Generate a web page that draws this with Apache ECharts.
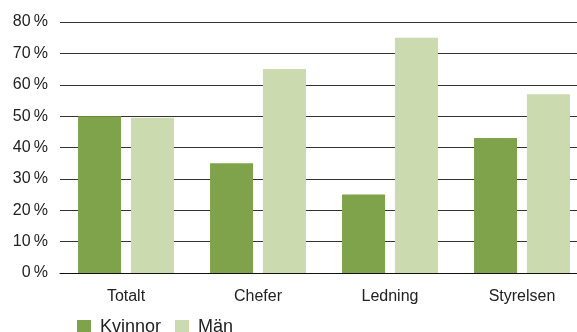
<!DOCTYPE html>
<html><head><meta charset="utf-8">
<script src="https://cdn.jsdelivr.net/npm/echarts@6/dist/echarts.min.js"></script>
<style>html,body{margin:0;padding:0;background:#fff}#c{width:577px;height:332px}</style>
</head><body><div id="c"></div>
<script>
const categories = ['Totalt', 'Chefer', 'Ledning', 'Styrelsen'];
const kvinnor = [50, 35, 25, 43];
const man = [49.5, 65, 75, 57];
const yTicks = [0, 10, 20, 30, 40, 50, 60, 70, 80];

const chart = echarts.init(document.getElementById('c'), null, {renderer: 'canvas'});
const font = 'Liberation Sans, Arial, Helvetica, sans-serif';
chart.setOption({
  animation: false,
  textStyle: {fontFamily: font},
  grid: {left: 60, width: 528, top: 22, height: 251, containLabel: false, outerBoundsMode: 'none'},
  legend: {
    left: 72, top: 313, itemWidth: 14, itemHeight: 14, itemGap: 14,
    icon: 'rect',
    textStyle: {fontSize: 18, color: '#222', fontFamily: font, padding: [0, 0, 0, 4]},
    data: ['Kvinnor', 'Män']
  },
  xAxis: {
    type: 'category', data: categories,
    axisLine: {lineStyle: {color: '#111', width: 1}},
    axisTick: {show: false},
    axisLabel: {fontSize: 16, color: '#222', margin: 16, fontFamily: font}
  },
  yAxis: {
    type: 'value', min: yTicks[0], max: yTicks[yTicks.length - 1], interval: 10,
    axisLine: {show: false}, axisTick: {show: false},
    axisLabel: {fontSize: 16, color: '#222', margin: 12, fontFamily: font,
      formatter: v => v + '\u2009%'},
    splitLine: {lineStyle: {color: '#333', width: 1}}
  },
  series: [
    {name: 'Kvinnor', type: 'bar', data: kvinnor, barWidth: 43, barGap: '23%',
     itemStyle: {color: '#7ea34a'}},
    {name: 'Män', type: 'bar', data: man, barWidth: 43,
     itemStyle: {color: '#cbdaaf'}}
  ]
});
</script></body></html>
